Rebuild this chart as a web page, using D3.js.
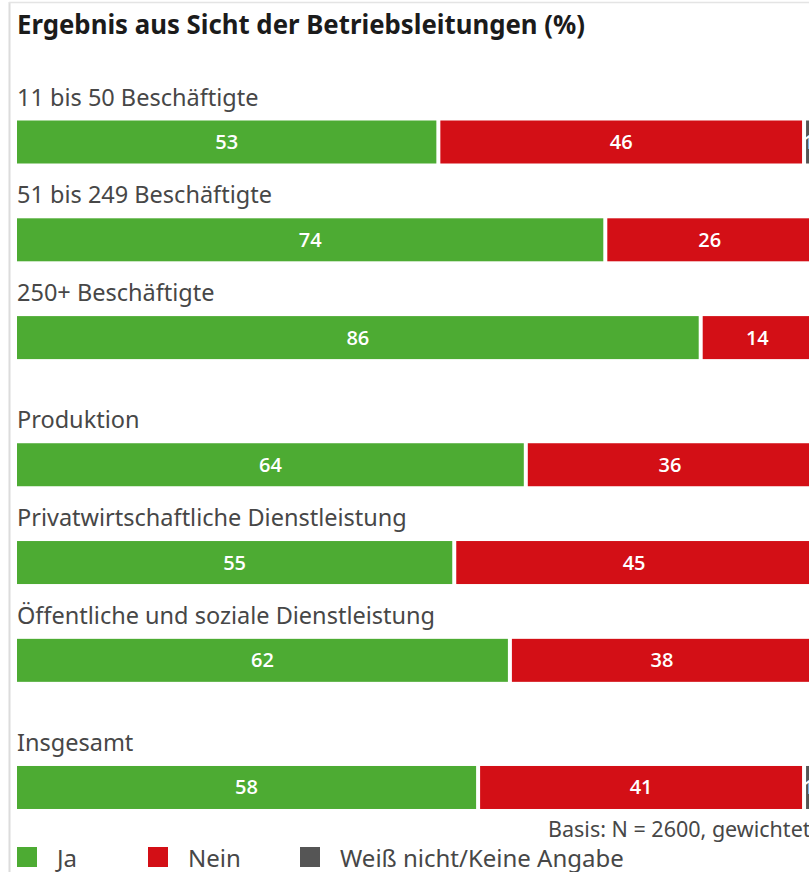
<!DOCTYPE html>
<html>
<head>
<meta charset="utf-8">
<script src="https://cdn.jsdelivr.net/npm/d3@7"></script>
<style>
  html, body { margin: 0; padding: 0; background: #fff; overflow: hidden; }
  svg { display: block; }
</style>
</head>
<body>
<svg id="chart" width="809" height="872"></svg>
<script>
// ---- data ----
const title = "Ergebnis aus Sicht der Betriebsleitungen (%)";
const categories = [
  "11 bis 50 Beschäftigte",
  "51 bis 249 Beschäftigte",
  "250+ Beschäftigte",
  "Produktion",
  "Privatwirtschaftliche Dienstleistung",
  "Öffentliche und soziale Dienstleistung",
  "Insgesamt"
];
const groups = [0, 0, 0, 1, 1, 1, 2];
const seriesNames = ["Ja", "Nein", "Weiß nicht/Keine Angabe"];
const ja      = [53, 74, 86, 64, 55, 62, 58];
const nein    = [46, 26, 14, 36, 45, 38, 41];
const weissNicht = [1, 0, 0, 0, 0, 0, 1];
const note = "Basis: N = 2600, gewichtet";

// ---- layout ----
const colors = ["#4dab33", "#d30f16", "#555555"];
const svg = d3.select("#chart");
const W = 809, H = 872;

const x = d3.scaleLinear().domain([0, 100]).range([17, 812]);
const slots = categories.map((c, i) => i + groups[i] * 0.3);
const y = d3.scaleLinear().domain([0, 1]).range([120.5, 218.3]);
const barH = 43;

// frame lines
svg.append("line").attr("x1", 9.5).attr("x2", 9.5).attr("y1", 2).attr("y2", H)
  .attr("stroke", "#dcdcdc").attr("stroke-width", 2);
svg.append("line").attr("x1", 9).attr("x2", W).attr("y1", 2.5).attr("y2", 2.5)
  .attr("stroke", "#e4e4e4").attr("stroke-width", 1.5);

// title
svg.append("text").attr("x", 17).attr("y", 34)
  .attr("font-family", "'Noto Sans', sans-serif")
  .attr("font-weight", "bold").attr("font-size", 27).attr("fill", "#1b1b1b")
  .attr("textLength", 568).attr("lengthAdjust", "spacingAndGlyphs")
  .text(title);

const labelFont = "'Noto Sans', sans-serif";

const rows = categories.map((c, i) => {
  const vals = [ja[i], nein[i], weissNicht[i]];
  let acc = 0;
  const segs = vals.map((v, k) => {
    const s = { k, v, x0: acc, x1: acc + v };
    acc += v;
    return s;
  }).filter(s => s.v > 0);
  return { c, i, top: y(slots[i]), segs };
});

const g = svg.selectAll("g.row").data(rows).join("g").attr("class", "row");

g.append("text")
  .attr("x", 17).attr("y", d => d.top - 15)
  .attr("font-family", labelFont).attr("font-size", 23.5).attr("fill", "#474747")
  .text(d => d.c);

g.each(function(d) {
  const sel = d3.select(this);
  const n = d.segs.length;
  d.segs.forEach((s, j) => {
    const left = x(s.x0) + (j > 0 ? 2 : 0);
    const right = x(s.x1) - (j < n - 1 ? 2 : 0);
    sel.append("rect")
      .attr("x", left).attr("y", d.top)
      .attr("width", Math.max(0, right - left)).attr("height", barH)
      .attr("fill", colors[s.k]);
    sel.append("text")
      .attr("x", (left + right) / 2).attr("y", d.top + barH / 2 + 7)
      .attr("text-anchor", "middle")
      .attr("font-family", "'Open Sans', sans-serif").attr("font-weight", 600)
      .attr("font-size", 20).attr("fill", "#fff")
      .text(s.v);
  });
});

// note
svg.append("text").attr("x", 548).attr("y", 837)
  .attr("font-family", labelFont).attr("font-size", 21.5).attr("fill", "#474747")
  .text(note);

// legend
const legX = [17, 148, 300];
const leg = svg.selectAll("g.leg").data(seriesNames).join("g").attr("class", "leg");
leg.append("rect").attr("x", (d, i) => legX[i]).attr("y", 847)
  .attr("width", 20).attr("height", 20).attr("fill", (d, i) => colors[i]);
leg.append("text").attr("x", (d, i) => legX[i] + 40).attr("y", 867)
  .attr("font-family", labelFont).attr("font-size", 24).attr("fill", "#474747")
  .text(d => d);
</script>
</body>
</html>
